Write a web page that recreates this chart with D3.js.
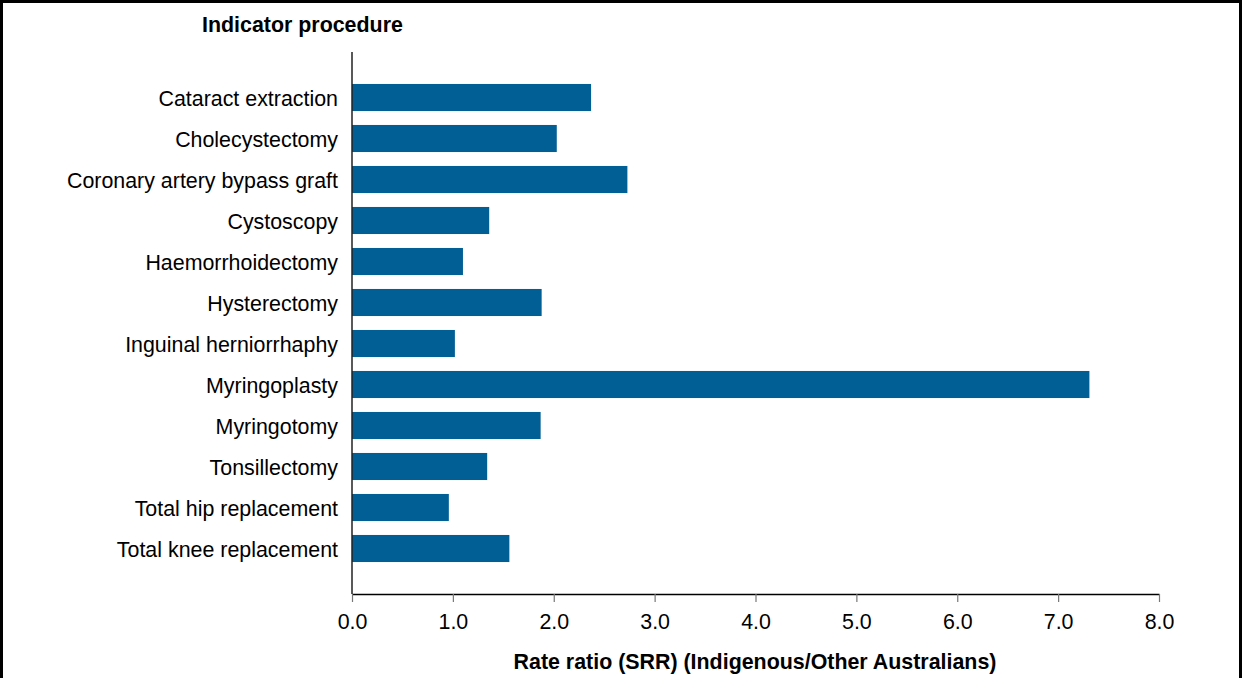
<!DOCTYPE html>
<html><head><meta charset="utf-8">
<script src="https://cdn.jsdelivr.net/npm/d3@7"></script>
<style>body{margin:0;background:#fff}svg{display:block;font-family:"Liberation Sans",Arial,sans-serif}</style>
</head><body>
<svg id="c" width="1242" height="678"></svg>
<script>
const categories = ["Cataract extraction","Cholecystectomy","Coronary artery bypass graft","Cystoscopy","Haemorrhoidectomy","Hysterectomy","Inguinal herniorrhaphy","Myringoplasty","Myringotomy","Tonsillectomy","Total hip replacement","Total knee replacement"];
const values = [2.37,2.03,2.73,1.36,1.10,1.88,1.02,7.31,1.87,1.34,0.96,1.56];
const xTicks = [0,1,2,3,4,5,6,7,8];
const yTitle = "Indicator procedure";
const xTitle = "Rate ratio (SRR) (Indigenous/Other Australians)";

const FS = 21.4;
const svg = d3.select("#c");
svg.append("rect").attr("x",1.5).attr("y",1.5).attr("width",1239).attr("height",720)
  .attr("fill","none").attr("stroke","#000").attr("stroke-width",3);

const x = d3.scaleLinear().domain([0,8]).range([352,1159]);
const y = d3.scaleBand().domain(categories).range([77,569]).paddingInner(0.34).paddingOuter(0.17);

svg.append("g").selectAll("rect").data(categories).join("rect")
  .attr("x",x(0)).attr("y",d=>y(d)).attr("height",y.bandwidth())
  .attr("width",(d,i)=>x(values[i])-x(0)).attr("fill","#025f95");

// y axis
const ya = svg.append("g").attr("transform",`translate(${x(0)},0)`)
  .call(d3.axisLeft(y).tickSize(0).tickPadding(14));
ya.select(".domain").remove();
ya.append("line").attr("x1",0).attr("x2",0).attr("y1",52).attr("y2",594).attr("stroke","#222").attr("stroke-width",1.5);
ya.selectAll("text").attr("font-size",FS).attr("fill","#000").attr("dy","0.4em").attr("font-family","Liberation Sans, Arial, sans-serif");

// x axis
const xa = svg.append("g").attr("transform","translate(0,594)")
  .call(d3.axisBottom(x).tickValues(xTicks).tickFormat(d3.format(".1f")).tickSize(8).tickSizeOuter(0).tickPadding(12));
xa.select(".domain").attr("stroke","#000").attr("stroke-width",1.5);
xa.selectAll(".tick line").attr("stroke","#777").attr("stroke-width",1.2);
xa.selectAll("text").attr("font-size",FS).attr("fill","#000").attr("font-family","Liberation Sans, Arial, sans-serif");

svg.append("text").attr("x",202).attr("y",32).attr("font-size",FS).attr("font-weight","bold").text(yTitle);
svg.append("text").attr("x",755).attr("y",669).attr("text-anchor","middle").attr("font-size",FS).attr("font-weight","bold").text(xTitle);
</script>
</body></html>
